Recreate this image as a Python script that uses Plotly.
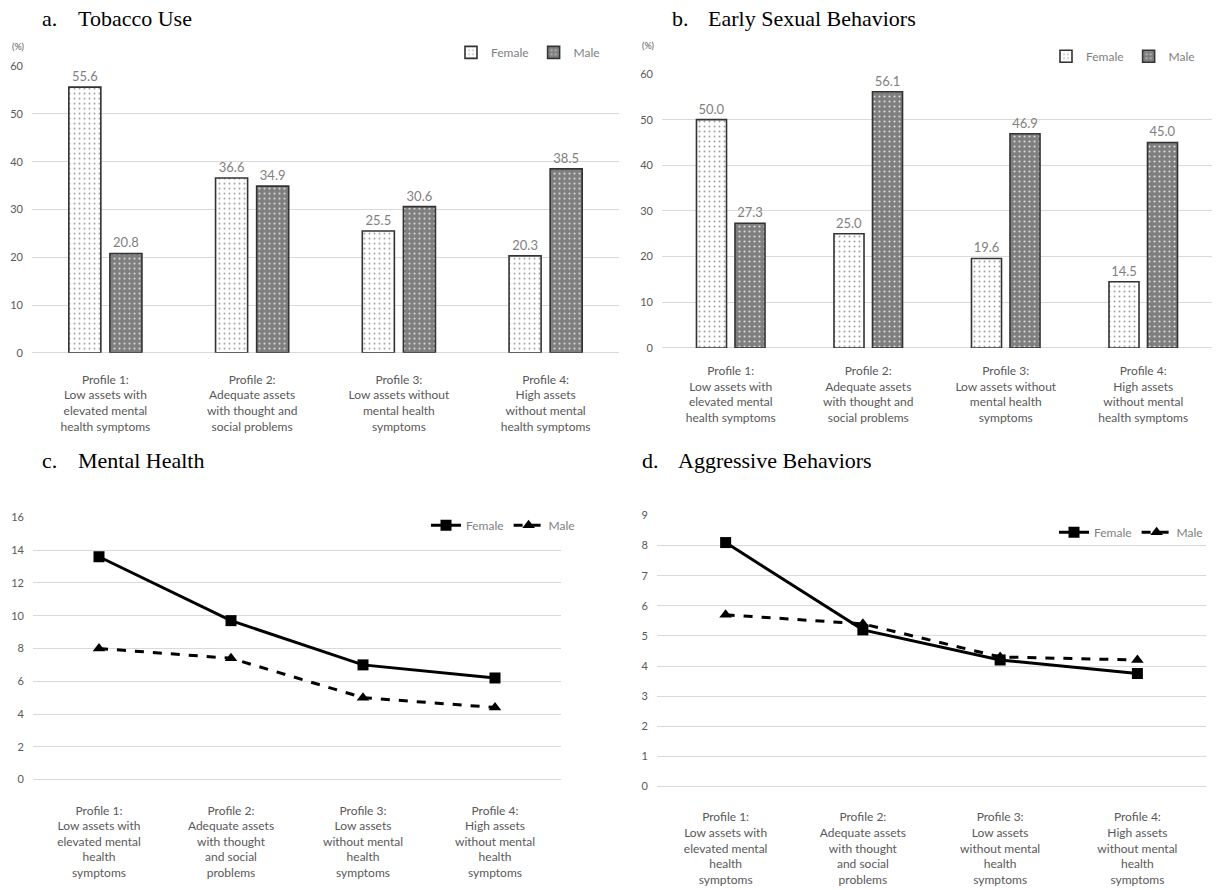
import plotly.graph_objects as go

# ---------------- data ----------------
profiles_ab = [
    "Profile 1:<br>Low assets with<br>elevated mental<br>health symptoms",
    "Profile 2:<br>Adequate assets<br>with thought and<br>social problems",
    "Profile 3:<br>Low assets without<br>mental health<br>symptoms",
    "Profile 4:<br>High assets<br>without mental<br>health symptoms",
]
profiles_cd = [
    "Profile 1:<br>Low assets with<br>elevated mental<br>health<br>symptoms",
    "Profile 2:<br>Adequate assets<br>with thought<br>and social<br>problems",
    "Profile 3:<br>Low assets<br>without mental<br>health<br>symptoms",
    "Profile 4:<br>High assets<br>without mental<br>health<br>symptoms",
]
series_names = ["Female", "Male"]

tobacco_female = [55.6, 36.6, 25.5, 20.3]
tobacco_male = [20.8, 34.9, 30.6, 38.5]
sexual_female = [50.0, 25.0, 19.6, 14.5]
sexual_male = [27.3, 56.1, 46.9, 45.0]
mental_female = [13.6, 9.7, 7.0, 6.2]
mental_male = [8.0, 7.4, 5.0, 4.4]
aggr_female = [8.1, 5.2, 4.2, 3.75]
aggr_male = [5.7, 5.4, 4.3, 4.2]

panel_titles = [("a.", "Tobacco Use"), ("b.", "Early Sexual Behaviors"),
                ("c.", "Mental Health"), ("d.", "Aggressive Behaviors")]

# ---------------- styling ----------------
W, H = 1217, 890
SANS = "Lato, Roboto, 'Open Sans', sans-serif"
SERIF = "'Liberation Serif', 'Times New Roman', serif"
GRID = "#d9d9d9"
TICK = "#595959"
LBL = "#7f7f7f"


def px(x):
    return x / W


def py(y):
    return 1 - y / H


fig = go.Figure()

female_pattern = dict(shape=".", fgcolor="#a0a0a0", bgcolor="white", size=5, solidity=0.12, fillmode="replace")
male_pattern = dict(shape=".", fgcolor="#dcdcdc", bgcolor="#7f7f7f", size=5, solidity=0.14, fillmode="replace")


def add_bars(xa, ya, legend, cats, fvals, mvals):
    for name, vals, pat in [(series_names[0], fvals, female_pattern), (series_names[1], mvals, male_pattern)]:
        fig.add_trace(go.Bar(
            x=cats, y=vals, name=name, xaxis=xa, yaxis=ya, legend=legend,
            marker=dict(color=pat["bgcolor"], pattern=pat, line=dict(color="#333333", width=1.6)),
            text=vals, texttemplate="%{y:.1f}", textposition="outside",
            textfont=dict(family=SANS, size=13, color=LBL), cliponaxis=False,
        ))


def add_lines(xa, ya, legend, cats, fvals, mvals):
    fig.add_trace(go.Scatter(
        x=cats, y=fvals, name=series_names[0], xaxis=xa, yaxis=ya, legend=legend,
        mode="lines+markers", line=dict(color="black", width=3),
        marker=dict(symbol="square", size=11, color="black"), cliponaxis=False,
    ))
    fig.add_trace(go.Scatter(
        x=cats, y=mvals, name=series_names[1], xaxis=xa, yaxis=ya, legend=legend,
        mode="lines+markers", line=dict(color="black", width=3, dash="dash"),
        marker=dict(symbol="triangle-up", size=11, color="black"), cliponaxis=False,
    ))


add_bars("x", "y", "legend", profiles_ab, tobacco_female, tobacco_male)
add_bars("x2", "y2", "legend2", profiles_ab, sexual_female, sexual_male)
add_lines("x3", "y3", "legend3", profiles_cd, mental_female, mental_male)
add_lines("x4", "y4", "legend4", profiles_cd, aggr_female, aggr_male)


def xax(x0, x1, anchor, standoff):
    return dict(domain=[px(x0), px(x1)], anchor=anchor, type="category", range=[-0.5, 3.5],
                showgrid=False, showline=False, zeroline=False, ticks="",
                tickfont=dict(family=SANS, size=12, color=TICK), ticklabelstandoff=standoff,
                fixedrange=True)


def yax(ybot, ytop, rng, dtick, anchor):
    return dict(domain=[py(ybot), py(ytop)], anchor=anchor, range=rng, dtick=dtick,
                showgrid=True, gridcolor=GRID, gridwidth=1, zeroline=True, zerolinecolor=GRID,
                zerolinewidth=1, showline=False, ticks="",
                tickfont=dict(family=SANS, size=11, color=TICK), ticklabelstandoff=8,
                fixedrange=True)


def legend_at(xr, yc):
    return dict(x=px(xr), y=py(yc), xanchor="right", yanchor="middle", orientation="h",
                bgcolor="rgba(0,0,0,0)", font=dict(family=SANS, size=12, color=LBL),
                itemwidth=30, traceorder="normal", tracegroupgap=0)


fig.update_layout(
    width=W, height=H, margin=dict(l=0, r=0, t=0, b=0),
    paper_bgcolor="white", plot_bgcolor="white",
    barmode="group", bargap=0.44, bargroupgap=0.22,
    showlegend=True,
    xaxis=xax(32, 619, "y", 18), yaxis=yax(351, 60, [0, 60], 10, "x"),
    xaxis2=xax(662, 1212, "y2", 14), yaxis2=yax(346, 68, [0, 60], 10, "x2"),
    xaxis3=xax(33, 561, "y3", 22), yaxis3=yax(784, 518, [0, 16], 2, "x3"),
    xaxis4=xax(657, 1206, "y4", 22), yaxis4=yax(791, 516, [0, 9], 1, "x4"),
    legend=legend_at(605, 46),
    legend2=legend_at(1200, 50),
    legend3=legend_at(580, 526),
    legend4=legend_at(1208, 533),
)

# titles
title_pos = [(40, 12), (670, 12), (40, 460), (640, 460)]
for (lab, txt), (x0, y0) in zip(panel_titles, title_pos):
    fig.add_annotation(x=px(x0), y=py(y0), xref="paper", yref="paper", text=lab, showarrow=False,
                       xanchor="left", yanchor="middle", font=dict(family=SERIF, size=22, color="black"))
    fig.add_annotation(x=px(x0 + 36), y=py(y0), xref="paper", yref="paper", text=txt, showarrow=False,
                       xanchor="left", yanchor="middle", font=dict(family=SERIF, size=22, color="black"))

for x0, y0 in [(10, 40), (640, 39)]:
    fig.add_annotation(x=px(x0), y=py(y0), xref="paper", yref="paper", text="(%)", showarrow=False,
                       xanchor="left", yanchor="middle", font=dict(family=SANS, size=9, color=TICK))

fig.write_html("out.html", config={"displayModeBar": False},
               post_script="document.body.style.margin='0';document.body.style.overflow='hidden';")
